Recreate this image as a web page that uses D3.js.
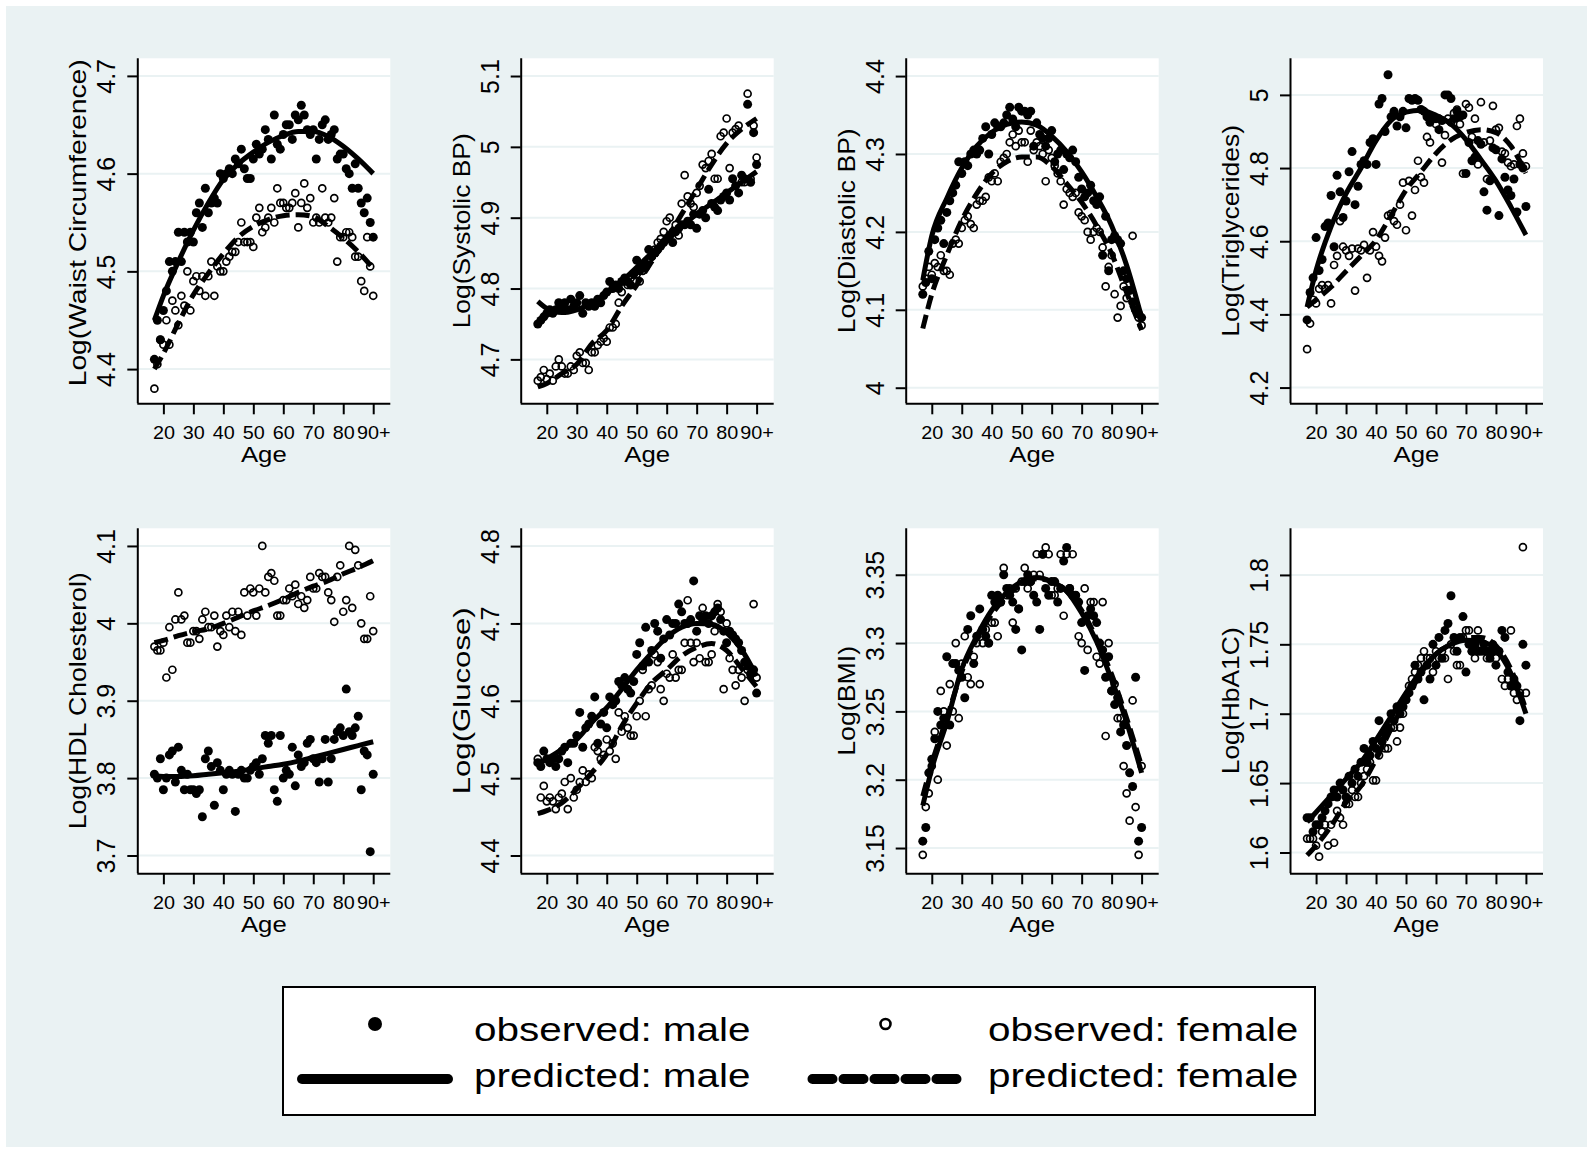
<!DOCTYPE html>
<html>
<head>
<meta charset="utf-8">
<script src="https://cdn.jsdelivr.net/npm/d3@7"></script>
<style>
  body { margin: 0; background: #fff; }
  svg { display: block; }
  text { font-family: "Liberation Sans", Arial, sans-serif; fill: #000; }
</style>
</head>
<body>
<div id="chart"></div>
<script>
// ages of the observed points and of the predicted curve knots
const ages = [17,18,19,20,21,22,23,24,25,26,27,28,29,30,31,32,33,34,35,36,37,38,39,40,41,42,43,44,45,46,
  47,48,49,50,51,52,53,54,55,56,57,58,59,60,61,62,63,64,65,66,67,68,69,70,71,72,73,74,75,76,
  77,78,79,80,81,82,83,84,85,86,87,88,89,90];
const predAges = [17,20,25,30,35,40,45,50,55,60,65,70,75,80,85,90];
const ageTicks = [20,30,40,50,60,70,80,90];

// waist circumference
const waistMale = [4.41,4.45,4.43,4.46,4.48,4.51,4.50,4.51,4.54,4.51,
  4.54,4.53,4.54,4.53,4.56,4.57,4.545,4.585,4.56,4.57,
  4.575,4.57,4.60,4.595,4.60,4.605,4.60,4.615,4.61,4.625,
  4.605,4.595,4.595,4.615,4.63,4.62,4.625,4.645,4.635,4.615,
  4.66,4.63,4.625,4.64,4.65,4.65,4.635,4.66,4.655,4.67,
  4.66,4.645,4.64,4.645,4.615,4.635,4.65,4.655,4.635,4.64,
  4.645,4.615,4.62,4.62,4.605,4.60,4.585,4.61,4.585,4.57,
  4.56,4.575,4.55,4.535];
const waistFemale = [4.38,4.405,4.43,4.425,4.45,4.425,4.47,4.46,4.445,4.475,
  4.465,4.50,4.46,4.49,4.495,4.48,4.495,4.475,4.495,4.51,
  4.475,4.505,4.50,4.50,4.51,4.515,4.52,4.52,4.53,4.55,
  4.53,4.53,4.53,4.525,4.555,4.565,4.54,4.545,4.555,4.565,
  4.55,4.585,4.57,4.57,4.565,4.565,4.57,4.58,4.545,4.57,
  4.59,4.565,4.575,4.55,4.555,4.55,4.585,4.555,4.55,4.555,
  4.575,4.51,4.535,4.535,4.54,4.54,4.535,4.515,4.515,4.49,
  4.48,4.535,4.505,4.475];
const waistPredMale = [4.45,4.475,4.51,4.542,4.57,4.594,4.61,4.622,4.632,4.639,4.643,4.643,4.638,4.628,4.615,4.60];
const waistPredFemale = [4.40,4.416,4.447,4.476,4.498,4.518,4.535,4.546,4.553,4.557,4.558,4.556,4.546,4.534,4.52,4.503];

// systolic BP
const sbpMale = [4.75,4.755,4.76,4.765,4.77,4.765,4.77,4.78,4.775,4.78,
  4.77,4.785,4.775,4.78,4.79,4.765,4.78,4.775,4.78,4.775,
  4.785,4.78,4.79,4.795,4.81,4.80,4.805,4.80,4.81,4.815,
  4.81,4.805,4.82,4.84,4.825,4.83,4.835,4.855,4.845,4.85,
  4.855,4.86,4.865,4.87,4.875,4.865,4.88,4.885,4.89,4.89,
  4.895,4.89,4.905,4.885,4.905,4.91,4.90,4.94,4.92,4.915,
  4.91,4.925,4.93,4.935,4.925,4.955,4.945,4.935,4.96,4.955,
  5.06,4.95,5.02,4.975];
const sbpFemale = [4.67,4.675,4.685,4.672,4.68,4.67,4.69,4.70,4.69,4.68,
  4.68,4.69,4.685,4.705,4.71,4.695,4.695,4.685,4.71,4.71,
  4.72,4.725,4.73,4.725,4.745,4.745,4.75,4.78,4.795,4.81,
  4.805,4.815,4.81,4.82,4.81,4.825,4.83,4.84,4.845,4.855,
  4.865,4.87,4.88,4.895,4.90,4.88,4.89,4.875,4.92,4.96,
  4.93,4.92,4.915,4.935,4.945,4.975,4.97,4.98,4.99,4.955,
  4.955,5.015,5.02,5.04,4.97,5.02,5.025,5.03,4.95,4.95,
  5.075,4.955,5.03,4.985];
const sbpPredMale = [4.782,4.772,4.766,4.770,4.78,4.793,4.81,4.83,4.85,4.868,4.887,4.905,4.92,4.935,4.95,4.965];
const sbpPredFemale = [4.661,4.666,4.68,4.693,4.722,4.741,4.775,4.805,4.838,4.87,4.905,4.94,4.975,5.005,5.025,5.04];

// diastolic BP
const dbpMale = [4.12,4.135,4.175,4.14,4.19,4.205,4.215,4.185,4.225,4.24,
  4.25,4.26,4.29,4.275,4.29,4.285,4.30,4.305,4.30,4.305,
  4.32,4.335,4.30,4.325,4.34,4.335,4.335,4.34,4.35,4.36,
  4.345,4.335,4.36,4.355,4.355,4.35,4.355,4.31,4.34,4.325,
  4.32,4.31,4.32,4.33,4.29,4.30,4.305,4.28,4.30,4.295,
  4.305,4.29,4.27,4.255,4.245,4.25,4.26,4.24,4.235,4.245,
  4.17,4.22,4.15,4.19,4.195,4.19,4.185,4.15,4.14,4.125,
  4.11,4.10,4.095,4.09];
const dbpFemale = [4.13,4.14,4.155,4.145,4.16,4.155,4.17,4.15,4.15,4.145,
  4.185,4.19,4.185,4.205,4.215,4.22,4.21,4.205,4.235,4.24,
  4.24,4.245,4.27,4.265,4.275,4.265,4.29,4.295,4.30,4.315,
  4.325,4.31,4.33,4.315,4.315,4.29,4.33,4.305,4.315,4.31,
  4.30,4.265,4.305,4.295,4.285,4.275,4.265,4.235,4.255,4.25,
  4.245,4.25,4.225,4.22,4.215,4.20,4.19,4.20,4.205,4.20,
  4.18,4.13,4.155,4.17,4.12,4.09,4.105,4.13,4.115,4.125,
  4.195,4.10,4.09,4.08];
const dbpPredMale = [4.138,4.195,4.243,4.282,4.31,4.328,4.338,4.341,4.337,4.323,4.303,4.277,4.245,4.208,4.157,4.09];
const dbpPredFemale = [4.076,4.12,4.17,4.215,4.249,4.275,4.29,4.296,4.296,4.284,4.262,4.238,4.208,4.172,4.122,4.074];

// triglycerides
const trigMale = [4.385,4.46,4.50,4.61,4.52,4.55,4.64,4.65,4.725,4.585,
  4.78,4.735,4.665,4.71,4.79,4.845,4.70,4.75,4.81,4.82,
  4.81,4.87,4.88,4.81,4.975,4.99,4.90,5.055,4.94,4.955,
  4.915,4.94,4.955,4.91,4.99,4.985,4.99,4.985,4.96,4.955,
  4.94,4.925,4.94,4.935,4.905,4.93,5.00,5.00,4.99,4.935,
  4.955,4.94,4.945,4.785,4.87,4.82,4.83,4.875,4.865,4.735,
  4.685,4.765,4.855,4.85,4.67,4.825,4.775,4.74,4.725,4.77,
  4.68,4.81,4.80,4.695];
const trigFemale = [4.305,4.375,4.44,4.43,4.47,4.48,4.47,4.48,4.43,4.535,
  4.56,4.655,4.585,4.575,4.56,4.58,4.465,4.58,4.575,4.59,
  4.50,4.575,4.625,4.585,4.56,4.545,4.61,4.67,4.675,4.655,
  4.645,4.70,4.76,4.63,4.765,4.67,4.74,4.82,4.775,4.76,
  4.885,4.87,4.935,4.92,4.935,4.815,4.89,4.935,4.925,4.95,
  4.96,4.92,4.785,4.975,4.965,4.885,4.935,4.81,4.98,4.87,
  4.77,4.875,4.97,4.905,4.91,4.845,4.84,4.815,4.805,4.81,
  4.915,4.935,4.84,4.805];
const trigPredMale = [4.42,4.52,4.64,4.73,4.80,4.875,4.93,4.953,4.958,4.944,4.92,4.878,4.823,4.765,4.694,4.617];
const trigPredFemale = [4.42,4.44,4.475,4.518,4.56,4.603,4.67,4.74,4.79,4.84,4.877,4.897,4.905,4.897,4.86,4.786];

// HDL cholesterol
const hdlMale = [3.805,3.80,3.825,3.785,3.80,3.83,3.835,3.795,3.84,3.81,
  3.785,3.805,3.785,3.785,3.78,3.785,3.75,3.825,3.835,3.815,
  3.765,3.82,3.81,3.785,3.805,3.81,3.805,3.757,3.805,3.81,
  3.80,3.80,3.81,3.815,3.82,3.805,3.825,3.855,3.845,3.855,
  3.785,3.77,3.855,3.80,3.81,3.805,3.84,3.79,3.83,3.815,
  3.82,3.845,3.85,3.825,3.82,3.795,3.825,3.85,3.795,3.825,
  3.85,3.86,3.865,3.855,3.915,3.86,3.855,3.865,3.88,3.785,
  3.835,3.83,3.705,3.805];
const hdlFemale = [3.97,3.965,3.965,3.975,3.93,3.995,3.94,4.005,4.04,4.005,
  4.01,3.975,3.975,3.99,3.99,3.98,4.005,4.015,3.995,3.995,
  4.01,3.97,3.99,3.985,4.01,3.995,4.015,3.99,4.015,3.985,
  4.04,4.01,4.045,4.04,4.01,4.045,4.10,4.04,4.06,4.065,
  4.055,4.01,4.01,4.03,4.03,4.045,4.035,4.05,4.025,4.035,
  4.02,4.03,4.06,4.045,4.045,4.065,4.06,4.06,4.04,4.03,
  4.002,4.06,4.075,4.015,4.03,4.10,4.02,4.095,4.075,4.00,
  3.98,3.98,4.035,3.99];
const hdlPredMale = [3.803,3.802,3.802,3.803,3.805,3.807,3.809,3.812,3.815,3.818,3.822,3.827,3.832,3.837,3.842,3.847];
const hdlPredFemale = [3.975,3.978,3.984,3.989,3.993,4.0,4.008,4.016,4.023,4.031,4.04,4.048,4.055,4.064,4.072,4.081];

// glucose
const gluMale = [4.52,4.515,4.535,4.525,4.52,4.525,4.515,4.525,4.535,4.54,
  4.52,4.545,4.545,4.555,4.585,4.54,4.565,4.57,4.58,4.605,
  4.545,4.57,4.585,4.565,4.605,4.595,4.60,4.625,4.62,4.63,
  4.615,4.61,4.625,4.66,4.675,4.645,4.695,4.65,4.665,4.70,
  4.69,4.655,4.68,4.705,4.685,4.70,4.70,4.725,4.715,4.70,
  4.70,4.705,4.755,4.69,4.71,4.705,4.71,4.70,4.71,4.715,
  4.72,4.705,4.69,4.675,4.69,4.685,4.68,4.675,4.665,4.65,
  4.645,4.635,4.64,4.61];
const gluFemale = [4.525,4.475,4.49,4.47,4.475,4.47,4.46,4.475,4.48,4.495,
  4.46,4.50,4.475,4.485,4.495,4.51,4.495,4.505,4.50,4.54,
  4.535,4.525,4.53,4.55,4.535,4.545,4.525,4.585,4.56,4.58,
  4.565,4.555,4.555,4.58,4.60,4.64,4.58,4.615,4.62,4.66,
  4.65,4.615,4.60,4.635,4.63,4.66,4.63,4.64,4.64,4.675,
  4.73,4.675,4.65,4.675,4.655,4.72,4.65,4.65,4.66,4.69,
  4.725,4.715,4.615,4.70,4.655,4.64,4.62,4.64,4.63,4.60,
  4.64,4.635,4.725,4.63];
const gluPredMale = [4.518,4.525,4.537,4.55,4.572,4.591,4.615,4.64,4.662,4.682,4.695,4.70,4.699,4.688,4.666,4.632];
const gluPredFemale = [4.454,4.458,4.468,4.486,4.507,4.531,4.567,4.597,4.623,4.64,4.658,4.669,4.674,4.665,4.642,4.618];

// BMI
const bmiMale = [3.155,3.165,3.205,3.215,3.23,3.25,3.24,3.245,3.29,3.24,
  3.285,3.285,3.28,3.275,3.26,3.31,3.32,3.285,3.305,3.325,
  3.31,3.305,3.30,3.335,3.33,3.335,3.33,3.35,3.34,3.335,
  3.33,3.31,3.325,3.295,3.345,3.35,3.345,3.335,3.33,3.31,
  3.365,3.34,3.335,3.345,3.345,3.33,3.34,3.36,3.37,3.34,
  3.335,3.335,3.33,3.315,3.28,3.32,3.325,3.32,3.315,3.30,
  3.295,3.275,3.29,3.265,3.255,3.26,3.235,3.24,3.225,3.205,
  3.195,3.275,3.155,3.165];
const bmiFemale = [3.145,3.18,3.19,3.21,3.235,3.20,3.265,3.25,3.225,3.27,
  3.25,3.30,3.245,3.285,3.305,3.275,3.27,3.29,3.30,3.27,
  3.30,3.31,3.30,3.315,3.315,3.305,3.33,3.355,3.335,3.34,
  3.315,3.34,3.325,3.345,3.355,3.34,3.345,3.35,3.365,3.35,
  3.365,3.37,3.365,3.335,3.335,3.34,3.365,3.32,3.365,3.34,
  3.365,3.335,3.305,3.30,3.34,3.295,3.33,3.33,3.29,3.285,
  3.33,3.232,3.30,3.265,3.27,3.245,3.245,3.21,3.19,3.17,
  3.258,3.18,3.145,3.21];
const bmiPredMale = [3.181,3.208,3.242,3.281,3.305,3.324,3.337,3.345,3.348,3.345,3.338,3.322,3.301,3.273,3.242,3.205];
const bmiPredFemale = [3.188,3.212,3.245,3.279,3.303,3.321,3.334,3.343,3.347,3.345,3.338,3.324,3.303,3.277,3.245,3.21];

// HbA1C
const hbaMale = [1.625,1.625,1.615,1.62,1.62,1.625,1.63,1.635,1.64,1.645,
  1.64,1.65,1.645,1.64,1.655,1.65,1.66,1.655,1.665,1.675,
  1.665,1.67,1.68,1.675,1.695,1.68,1.685,1.69,1.70,1.695,
  1.705,1.70,1.705,1.71,1.715,1.72,1.735,1.725,1.73,1.71,
  1.735,1.725,1.75,1.735,1.755,1.74,1.76,1.765,1.785,1.755,
  1.745,1.755,1.77,1.73,1.75,1.745,1.75,1.745,1.745,1.75,
  1.745,1.74,1.745,1.735,1.745,1.76,1.755,1.73,1.72,1.725,
  1.72,1.695,1.75,1.735];
const hbaFemale = [1.61,1.61,1.61,1.605,1.597,1.615,1.62,1.605,1.62,1.607,
  1.63,1.625,1.62,1.635,1.635,1.645,1.64,1.64,1.65,1.655,
  1.66,1.665,1.652,1.652,1.67,1.68,1.675,1.675,1.69,1.69,
  1.68,1.69,1.70,1.71,1.72,1.725,1.73,1.735,1.74,1.745,
  1.74,1.74,1.73,1.745,1.74,1.745,1.74,1.725,1.75,1.745,
  1.735,1.735,1.755,1.76,1.76,1.745,1.74,1.76,1.75,1.745,
  1.74,1.745,1.75,1.74,1.745,1.725,1.72,1.725,1.76,1.715,
  1.71,1.715,1.82,1.715];
const hbaPredMale = [1.622,1.629,1.641,1.653,1.665,1.681,1.698,1.715,1.731,1.743,1.75,1.753,1.752,1.746,1.729,1.70];
const hbaPredFemale = [1.598,1.605,1.619,1.636,1.648,1.667,1.689,1.71,1.729,1.743,1.75,1.755,1.755,1.749,1.732,1.703];

const panels = [
  { title: "Log(Waist Circumference)", titleLen: 327, titleShift: -8, domain: [4.365, 4.718], ticks: [4.4, 4.5, 4.6, 4.7],
    male: waistMale, female: waistFemale, predMale: waistPredMale, predFemale: waistPredFemale },
  { title: "Log(Systolic BP)", titleLen: 195, titleShift: 0, domain: [4.638, 5.125], ticks: [4.7, 4.8, 4.9, 5, 5.1],
    male: sbpMale, female: sbpFemale, predMale: sbpPredMale, predFemale: sbpPredFemale },
  { title: "Log(Diastolic BP)", titleLen: 205, titleShift: 0, domain: [3.98, 4.4228], ticks: [4, 4.1, 4.2, 4.3, 4.4],
    male: dbpMale, female: dbpFemale, predMale: dbpPredMale, predFemale: dbpPredFemale },
  { title: "Log(Triglycerides)", titleLen: 212, titleShift: 0, domain: [4.157, 5.10], ticks: [4.2, 4.4, 4.6, 4.8, 5],
    male: trigMale, female: trigFemale, predMale: trigPredMale, predFemale: trigPredFemale },
  { title: "Log(HDL Cholesterol)", titleLen: 257, titleShift: 0, domain: [3.677, 4.1228], ticks: [3.7, 3.8, 3.9, 4, 4.1],
    male: hdlMale, female: hdlFemale, predMale: hdlPredMale, predFemale: hdlPredFemale },
  { title: "Log(Glucose)", titleLen: 187, titleShift: 0, domain: [4.377, 4.823], ticks: [4.4, 4.5, 4.6, 4.7, 4.8],
    male: gluMale, female: gluFemale, predMale: gluPredMale, predFemale: gluPredFemale },
  { title: "Log(BMI)", titleLen: 110, titleShift: 0, domain: [3.1315, 3.384], ticks: [3.15, 3.2, 3.25, 3.3, 3.35],
    male: bmiMale, female: bmiFemale, predMale: bmiPredMale, predFemale: bmiPredFemale },
  { title: "Log(HbA1C)", titleLen: 147, titleShift: 0, domain: [1.585, 1.8336], ticks: [1.6, 1.65, 1.7, 1.75, 1.8],
    male: hbaMale, female: hbaFemale, predMale: hbaPredMale, predFemale: hbaPredFemale }
];

const width = 1593, height = 1153;
const colLeft = [137.3, 520.7, 905.7, 1290];
const rowTop = [58.3, 528.3];
const plotW = 253, plotH = 345;
const bg = "#eaf2f3";

const svg = d3.select("#chart").append("svg")
  .attr("width", width).attr("height", height);

svg.append("rect").attr("width", width).attr("height", height).attr("fill", "#fff");
svg.append("rect").attr("x", 6).attr("y", 6)
  .attr("width", width - 12).attr("height", height - 12).attr("fill", bg);

panels.forEach((p, i) => {
  const left = colLeft[i % 4], top = rowTop[Math.floor(i / 4)];
  const x = d3.scaleLinear().domain([11.3, 95.7]).range([left, left + plotW]);
  const y = d3.scaleLinear().domain(p.domain).range([top + plotH, top]);
  const g = svg.append("g");

  g.append("rect").attr("x", left).attr("y", top)
    .attr("width", plotW).attr("height", plotH).attr("fill", "#fff");

  // gridlines
  g.selectAll("line.grid").data(p.ticks).join("line")
    .attr("class", "grid")
    .attr("x1", left).attr("x2", left + plotW)
    .attr("y1", d => y(d)).attr("y2", d => y(d))
    .attr("stroke", bg).attr("stroke-width", 2);

  // y axis
  const ya = g.append("g").attr("transform", `translate(${left},0)`)
    .call(d3.axisLeft(y).tickValues(p.ticks).tickSize(10).tickSizeOuter(0).tickFormat(d => String(d)));
  ya.select(".domain").attr("stroke", "#000").attr("stroke-width", 2)
    .attr("d", `M0.5,${top}V${top + plotH}`);
  ya.selectAll(".tick line").attr("stroke", "#000").attr("stroke-width", 2);
  ya.selectAll(".tick text")
    .attr("x", null).attr("dy", null)
    .attr("transform", "translate(-22,0) rotate(-90)")
    .attr("text-anchor", "middle")
    .style("font-size", "25px")
    .style("font-family", "'Liberation Sans', Arial, sans-serif");

  // x axis
  const xa = g.append("g").attr("transform", `translate(0,${top + plotH})`)
    .call(d3.axisBottom(x).tickValues(ageTicks).tickSize(11).tickSizeOuter(0)
      .tickFormat(d => d === 90 ? "90+" : String(d)));
  xa.select(".domain").attr("stroke", "#000").attr("stroke-width", 2)
    .attr("d", `M${left},0.5H${left + plotW}`);
  xa.selectAll(".tick line").attr("stroke", "#000").attr("stroke-width", 2);
  xa.selectAll(".tick text")
    .attr("y", null).attr("dy", null)
    .attr("transform", "translate(0,36) scale(1.1,1)")
    .attr("text-anchor", "middle")
    .style("font-size", "18px")
    .style("font-family", "'Liberation Sans', Arial, sans-serif");

  // axis titles
  g.append("text")
    .attr("transform", `translate(${left + plotW / 2},${top + plotH + 59}) scale(1.12,1)`)
    .attr("text-anchor", "middle").style("font-size", "23px").text("Age");
  g.append("text")
    .attr("transform", `translate(${left - 51},${top + plotH / 2 + p.titleShift}) rotate(-90)`)
    .attr("text-anchor", "middle").style("font-size", "24px")
    .attr("textLength", p.titleLen).attr("lengthAdjust", "spacingAndGlyphs")
    .text(p.title);

  // observed points
  g.append("g").selectAll("circle").data(ages).join("circle")
    .attr("cx", d => x(d)).attr("cy", (d, j) => y(p.male[j]))
    .attr("r", 4.5).attr("fill", "#000");
  g.append("g").selectAll("circle").data(ages).join("circle")
    .attr("cx", d => x(d)).attr("cy", (d, j) => y(p.female[j]))
    .attr("r", 3.5).attr("fill", "none").attr("stroke", "#000").attr("stroke-width", 1.7);

  // predicted curves
  const line = vals => d3.line()
    .x(d => x(d))
    .y((d, j) => y(vals[j]))
    .curve(d3.curveMonotoneX)(predAges);
  g.append("path").attr("d", line(p.predMale))
    .attr("fill", "none").attr("stroke", "#000").attr("stroke-width", 5);
  g.append("path").attr("d", line(p.predFemale))
    .attr("fill", "none").attr("stroke", "#000").attr("stroke-width", 5)
    .attr("stroke-dasharray", "14 6");
});

// legend
const legendItems = [
  { label: "observed: male", kind: "dot", col: 0, row: 0 },
  { label: "observed: female", kind: "ring", col: 1, row: 0 },
  { label: "predicted: male", kind: "solid", col: 0, row: 1 },
  { label: "predicted: female", kind: "dash", col: 1, row: 1 }
];
const symX = [375, 885.5], textX = [474, 988];
const symY = [1024, 1079], textY = [1041, 1087];

const lg = svg.append("g");
lg.append("rect").attr("x", 283).attr("y", 987).attr("width", 1032).attr("height", 128)
  .attr("fill", "#fff").attr("stroke", "#000").attr("stroke-width", 2);

legendItems.forEach(it => {
  const cx = symX[it.col], cy = symY[it.row];
  if (it.kind === "dot") {
    lg.append("circle").attr("cx", cx).attr("cy", cy).attr("r", 7).attr("fill", "#000");
  } else if (it.kind === "ring") {
    lg.append("circle").attr("cx", cx).attr("cy", cy).attr("r", 5)
      .attr("fill", "none").attr("stroke", "#000").attr("stroke-width", 2.6);
  } else {
    lg.append("line").attr("x1", cx - 73).attr("x2", cx + 73).attr("y1", cy).attr("y2", cy)
      .attr("stroke", "#000").attr("stroke-width", 10).attr("stroke-linecap", "round")
      .attr("stroke-dasharray", it.kind === "dash" ? "20 11" : null);
  }
  lg.append("text")
    .attr("transform", `translate(${textX[it.col]},${textY[it.row]}) scale(1.19,1)`)
    .style("font-size", "34px").text(it.label);
});
</script>
</body>
</html>
